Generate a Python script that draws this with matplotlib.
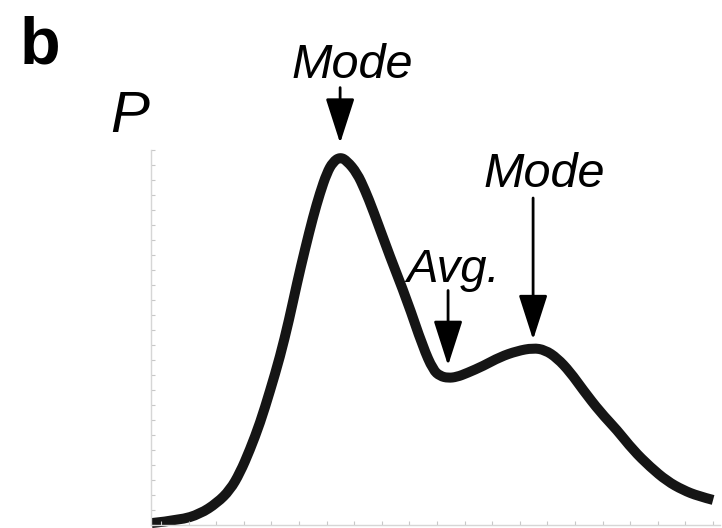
"""
Bimodal distribution sketch: two modes and the average marked with arrows.
"""
import matplotlib
matplotlib.use("Agg")
import matplotlib.pyplot as plt
from matplotlib.path import Path
from matplotlib.patches import PathPatch
from matplotlib.ticker import MultipleLocator

matplotlib.rcParams.update({
    "font.family": ["Liberation Sans", "DejaVu Sans"],
    "axes.spines.top": False, "axes.spines.right": False,
})

x_vals = [-0.33, 0.69, 1.41, 2.03, 2.50, 2.86, 3.22, 3.59, 3.95, 4.31,
          4.64, 4.93, 5.22, 5.51, 5.76, 6.01, 6.23, 6.49, 6.74, 7.10,
          7.39, 7.68, 8.30, 8.91, 9.49, 9.86, 10.11, 10.40, 10.72, 11.09,
          11.67, 12.28, 12.90, 13.48, 13.91, 14.35, 14.82, 15.29, 15.91, 16.52,
          17.10, 17.72, 18.33, 18.91, 19.46, 20.00]
p_vals = [0.13, 0.33, 0.73, 1.47, 2.33, 3.47, 5.00, 6.80, 8.93, 11.20,
          13.67, 16.13, 18.40, 20.53, 22.13, 23.47, 24.20, 24.53, 24.27, 23.47,
          22.33, 21.00, 17.87, 15.00, 11.87, 10.33, 9.93, 9.80, 9.87, 10.13,
          10.60, 11.20, 11.60, 11.80, 11.67, 11.13, 10.20, 9.00, 7.53, 6.33,
          5.00, 3.87, 2.93, 2.33, 1.93, 1.67]

# Marked points: (label, x, P)
marks = [("Mode", 6.49, 24.53), ("Avg.", 10.40, 9.80), ("Mode", 13.48, 11.80)]


def smooth_path(xs, ys):
    """Quadratic Bezier path: samples are control points, midpoints lie on the curve."""
    pts = list(zip(xs, ys))
    verts = [pts[0]]
    codes = [Path.MOVETO]
    for i in range(1, len(pts) - 1):
        nxt = pts[i + 1] if i + 1 == len(pts) - 1 else \
            ((pts[i][0] + pts[i + 1][0]) / 2, (pts[i][1] + pts[i + 1][1]) / 2)
        verts += [pts[i], nxt]
        codes += [Path.CURVE3, Path.CURVE3]
    return Path(verts, codes)


W, H = 722, 528
fig = plt.figure(figsize=(W / 100, H / 100), dpi=100)
ax = fig.add_axes([151 / W, 3 / H, (720 - 151) / W, (525 - 150) / H])

ax.add_patch(PathPatch(smooth_path(x_vals, p_vals), fc="none", ec="#151515",
                       lw=7.2, capstyle="butt", joinstyle="round", clip_on=False))

ax.set_xlim(-0.36, 20.25)
ax.set_ylim(0, 25)
ax.xaxis.set_major_locator(MultipleLocator(1))
ax.yaxis.set_major_locator(MultipleLocator(1))
ax.tick_params(direction="in", length=3, width=0.8, color="#c8c8c8",
               labelbottom=False, labelleft=False)
for s in ("left", "bottom"):
    ax.spines[s].set_color("#d6d6d6")
    ax.spines[s].set_linewidth(1.0)

# (shaft start above point, tip gap, text baseline above point, text x shift) in pt
arrow_geom = [(50, 10, 57, 9), (63, 9, 69, 4), (108, 6, 116, 8)]
head = "-|>,head_length=2.8,head_width=0.9"
for (label, mx, my), (top, gap, txt, dx) in zip(marks, arrow_geom):
    ax.annotate("", xy=(mx, my), xytext=(0, top), textcoords="offset points",
                arrowprops=dict(arrowstyle=head, mutation_scale=10, lw=2.0,
                                color="black", shrinkA=0, shrinkB=gap))
    ax.annotate(label, xy=(mx, my), xytext=(dx, txt), textcoords="offset points",
                ha="center", va="baseline", fontsize=34 if label == "Avg." else 35,
                fontstyle="italic", color="black", annotation_clip=False)

fig.text(20 / W, 1 - 63 / H, "b", fontsize=48, fontweight="bold",
         ha="left", va="baseline")
fig.text(110 / W, 1 - 132 / H, "P", fontsize=42, fontstyle="italic",
         ha="left", va="baseline")

fig.savefig("out.png", dpi=100)
